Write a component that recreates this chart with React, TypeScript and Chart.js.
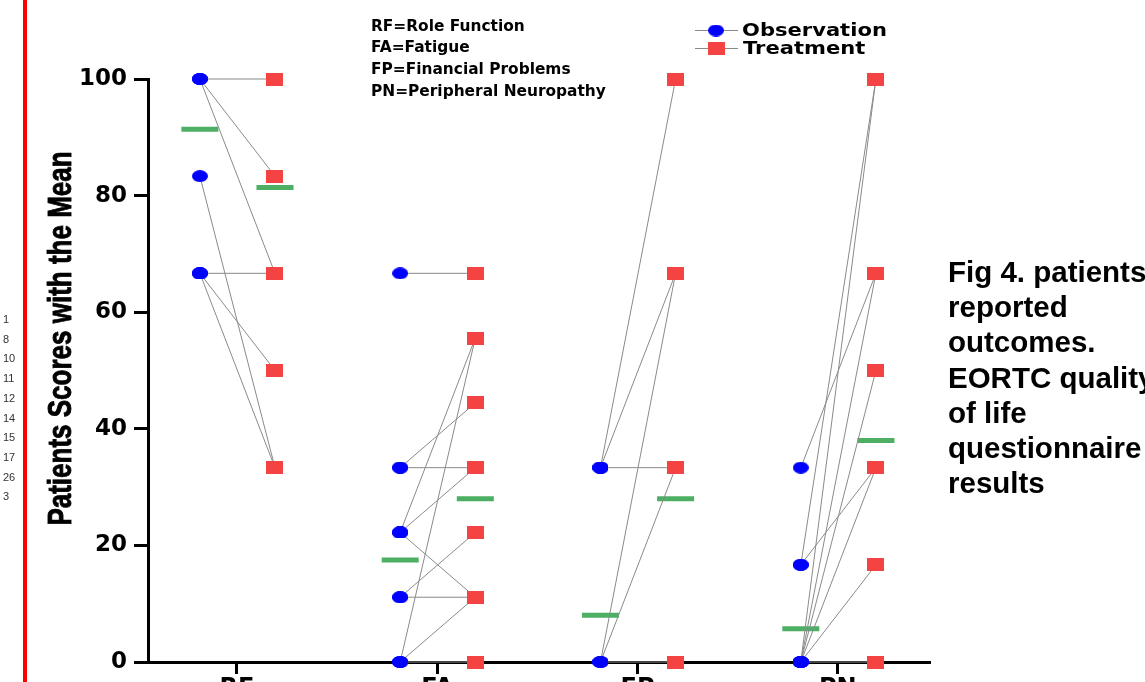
import React, { useEffect, useRef } from 'react';
import { Chart, registerables } from 'chart.js';

Chart.register(...registerables);

// ---------- data ----------
const CATEGORIES = ['RF', 'FA', 'FP', 'PN'];
const Y_TICKS = [0, 20, 40, 60, 80, 100];

// paired patient scores: observation[i] -> treatment[i]
const RF_OBS = [100, 100, 100, 83.33, 66.67, 66.67, 66.67];
const RF_TRT = [100, 83.33, 66.67, 33.33, 66.67, 33.33, 50];
const FA_OBS = [66.67, 33.33, 33.33, 22.22, 22.22, 22.22, 11.11, 11.11, 0, 0, 0];
const FA_TRT = [66.67, 44.44, 33.33, 55.56, 33.33, 11.11, 22.22, 11.11, 55.56, 11.11, 0];
const FP_OBS = [33.33, 33.33, 33.33, 0, 0, 0];
const FP_TRT = [100, 66.67, 33.33, 66.67, 33.33, 0];
const PN_OBS = [33.33, 16.67, 16.67, 0, 0, 0, 0, 0, 0];
const PN_TRT = [66.67, 100, 33.33, 100, 66.67, 50, 33.33, 16.67, 0];

const OBS_MEANS = [91.4, 17.5, 8.0, 5.7];
const TRT_MEANS = [81.4, 28.0, 28.0, 38.0];

const OBS_SERIES = [RF_OBS, FA_OBS, FP_OBS, PN_OBS];
const TRT_SERIES = [RF_TRT, FA_TRT, FP_TRT, PN_TRT];

const PATIENT_IDS = ['1', '8', '10', '11', '12', '14', '15', '17', '26', '3'];
const ABBREVIATIONS = [
  'RF=Role Function',
  'FA=Fatigue',
  'FP=Financial Problems',
  'PN=Peripheral Neuropathy',
];
const CAPTION_LINES = [
  'Fig 4. patients',
  'reported',
  'outcomes.',
  'EORTC quality',
  'of life',
  'questionnaire',
  'results',
];
const Y_TITLE = 'Patients Scores with the Mean';
const LEGEND_LABELS = ['Observation', 'Treatment'];

// ---------- styling / layout ----------
const OBS_OFFSET = -0.185;
const TRT_OFFSET = 0.19;
const BLUE = '#0000FF';
const RED = '#F44343';
const GREEN = '#4CAF64';
const LINE_GREY = '#8a8a8a';
const W = 1145;
const H = 720;

function makeMarker(kind: 'ellipse' | 'rect'): HTMLCanvasElement {
  const c = document.createElement('canvas');
  if (kind === 'ellipse') {
    c.width = 16;
    c.height = 12;
    const g = c.getContext('2d')!;
    g.fillStyle = BLUE;
    g.beginPath();
    g.ellipse(8, 6, 8, 6, 0, 0, Math.PI * 2);
    g.fill();
  } else {
    c.width = 17;
    c.height = 13;
    const g = c.getContext('2d')!;
    g.fillStyle = RED;
    g.fillRect(0, 0, 17, 13);
  }
  return c;
}

export default function App() {
  const ref = useRef<HTMLCanvasElement | null>(null);

  useEffect(() => {
    if (!ref.current) return;
    const ellipse = makeMarker('ellipse');
    const rect = makeMarker('rect');

    const obsPts = OBS_SERIES.flatMap((vals, c) =>
      vals.map((v) => ({ x: c + 1 + OBS_OFFSET, y: v }))
    );
    const trtPts = TRT_SERIES.flatMap((vals, c) =>
      vals.map((v) => ({ x: c + 1 + TRT_OFFSET, y: v }))
    );
    const pairPts = OBS_SERIES.flatMap((vals, c) =>
      vals.flatMap((v, i) => [
        { x: c + 1 + OBS_OFFSET, y: v },
        { x: c + 1 + TRT_OFFSET, y: TRT_SERIES[c][i] },
        { x: c + 1, y: null as any },
      ])
    );
    const obsMeanPts = OBS_MEANS.map((m, c) => ({ x: c + 1 + OBS_OFFSET, y: m }));
    const trtMeanPts = TRT_MEANS.map((m, c) => ({ x: c + 1 + TRT_OFFSET, y: m }));

    const extras = {
      id: 'extras',
      afterDraw(chart: any) {
        const ctx = chart.ctx as CanvasRenderingContext2D;
        // y-axis title
        ctx.save();
        ctx.translate(71, 338.5);
        ctx.rotate(-Math.PI / 2);
        ctx.scale(1, 1.3);
        ctx.font = 'bold 26px "Liberation Sans", Arial, sans-serif';
        ctx.fillStyle = '#000';
        ctx.strokeStyle = '#000';
        ctx.lineWidth = 0.7;
        ctx.textAlign = 'center';
        ctx.textBaseline = 'alphabetic';
        ctx.fillText(Y_TITLE, 0, 0);
        ctx.strokeText(Y_TITLE, 0, 0);
        ctx.restore();

        // legend
        const rows = [
          { y: 30, img: ellipse, tx: 742 },
          { y: 48, img: rect, tx: 743 },
        ];
        rows.forEach((r, i) => {
          ctx.save();
          ctx.strokeStyle = LINE_GREY;
          ctx.lineWidth = 1;
          ctx.beginPath();
          ctx.moveTo(695, r.y + 0.5);
          ctx.lineTo(738, r.y + 0.5);
          ctx.stroke();
          ctx.drawImage(r.img, 716 - r.img.width / 2, r.y - r.img.height / 2 + 0.5);
          ctx.translate(r.tx, r.y);
          ctx.scale(1.17, 1);
          ctx.font = 'bold 18px "DejaVu Sans", sans-serif';
          ctx.fillStyle = '#000';
          ctx.textAlign = 'left';
          ctx.textBaseline = 'middle';
          ctx.fillText(LEGEND_LABELS[i], 0, 1);
          ctx.restore();
        });
      },
    };

    const chart = new Chart(ref.current, {
      type: 'scatter',
      data: {
        datasets: [
          {
            label: 'Observation',
            data: obsPts,
            pointStyle: ellipse as any,
            pointRadius: 8,
            pointHoverRadius: 8,
            order: 0,
            clip: false as any,
          },
          {
            label: 'Treatment',
            data: trtPts,
            pointStyle: rect as any,
            pointRadius: 8,
            pointHoverRadius: 8,
            order: 0,
            clip: false as any,
          },
          {
            type: 'line',
            label: 'pairs',
            data: pairPts,
            borderColor: LINE_GREY,
            borderWidth: 1,
            pointRadius: 0,
            spanGaps: false,
            showLine: true,
            order: 1,
            clip: false as any,
          } as any,
          {
            label: 'Observation mean',
            data: obsMeanPts,
            pointStyle: 'line',
            pointRadius: 18.5,
            borderColor: GREEN,
            backgroundColor: GREEN,
            pointBorderWidth: 5,
            order: 2,
            clip: false as any,
          },
          {
            label: 'Treatment mean',
            data: trtMeanPts,
            pointStyle: 'line',
            pointRadius: 18.5,
            borderColor: GREEN,
            backgroundColor: GREEN,
            pointBorderWidth: 5,
            order: 2,
            clip: false as any,
          },
        ],
      },
      options: {
        responsive: false,
        animation: false,
        events: [],
        layout: { padding: { left: 0, right: 215, top: 79, bottom: 0 } },
        plugins: {
          legend: { display: false },
          tooltip: { enabled: false },
        },
        scales: {
          x: {
            type: 'linear',
            min: 0.556,
            max: 4.46,
            afterFit: (s: any) => {
              s.height = H - 662;
            },
            afterBuildTicks: (axis: any) => {
              axis.ticks = CATEGORIES.map((_, i) => ({ value: i + 1 }));
            },
            ticks: {
              callback: (v: any) => CATEGORIES[Math.round(Number(v)) - 1] ?? '',
              font: { family: '"DejaVu Sans", sans-serif', size: 24, weight: 'bold' },
              color: '#000',
              padding: 0,
              maxRotation: 0,
              autoSkip: false,
            },
            grid: {
              display: true,
              drawOnChartArea: false,
              drawTicks: true,
              tickLength: 12,
              tickWidth: 3,
              tickColor: '#000',
            },
            border: { display: true, width: 3, color: '#000' },
          },
          y: {
            type: 'linear',
            min: 0,
            max: 100,
            afterFit: (s: any) => {
              s.width = 148;
            },
            afterBuildTicks: (axis: any) => {
              axis.ticks = Y_TICKS.map((v) => ({ value: v }));
            },
            ticks: {
              font: { family: '"DejaVu Sans", sans-serif', size: 23, weight: 'bold' },
              color: '#000',
              padding: 7,
            },
            grid: {
              display: true,
              drawOnChartArea: false,
              drawTicks: true,
              tickLength: 14,
              tickWidth: 3,
              tickColor: '#000',
            },
            border: { display: true, width: 3, color: '#000' },
          },
        },
      },
      plugins: [extras],
    });
    return () => chart.destroy();
  }, []);

  return (
    <div
      style={{
        position: 'absolute',
        left: 0,
        top: 0,
        width: W,
        height: 682,
        overflow: 'hidden',
        background: '#fff',
      }}
    >
      <canvas ref={ref} width={W} height={H} style={{ position: 'absolute', left: 0, top: 0 }} />
      <div
        style={{
          position: 'absolute',
          left: 23,
          top: 0,
          width: 4,
          height: 682,
          background: '#ff0000',
        }}
      />
      <div
        style={{
          position: 'absolute',
          left: 3,
          top: 310,
          font: '11px "Liberation Sans", Arial, sans-serif',
          lineHeight: '19.7px',
          color: '#333',
        }}
      >
        {PATIENT_IDS.map((id, i) => (
          <div key={i}>{id}</div>
        ))}
      </div>
      <div
        style={{
          position: 'absolute',
          left: 371,
          top: 15.5,
          font: 'bold 15.4px "DejaVu Sans", sans-serif',
          lineHeight: '21.7px',
          color: '#000',
          whiteSpace: 'pre',
        }}
      >
        {ABBREVIATIONS.map((t, i) => (
          <div key={i}>{t}</div>
        ))}
      </div>
      <div
        style={{
          position: 'absolute',
          left: 948,
          top: 254,
          font: 'bold 29.5px "Liberation Sans", Arial, sans-serif',
          lineHeight: '35.2px',
          color: '#000',
          whiteSpace: 'pre',
        }}
      >
        {CAPTION_LINES.map((t, i) => (
          <div key={i}>{t}</div>
        ))}
      </div>
    </div>
  );
}
